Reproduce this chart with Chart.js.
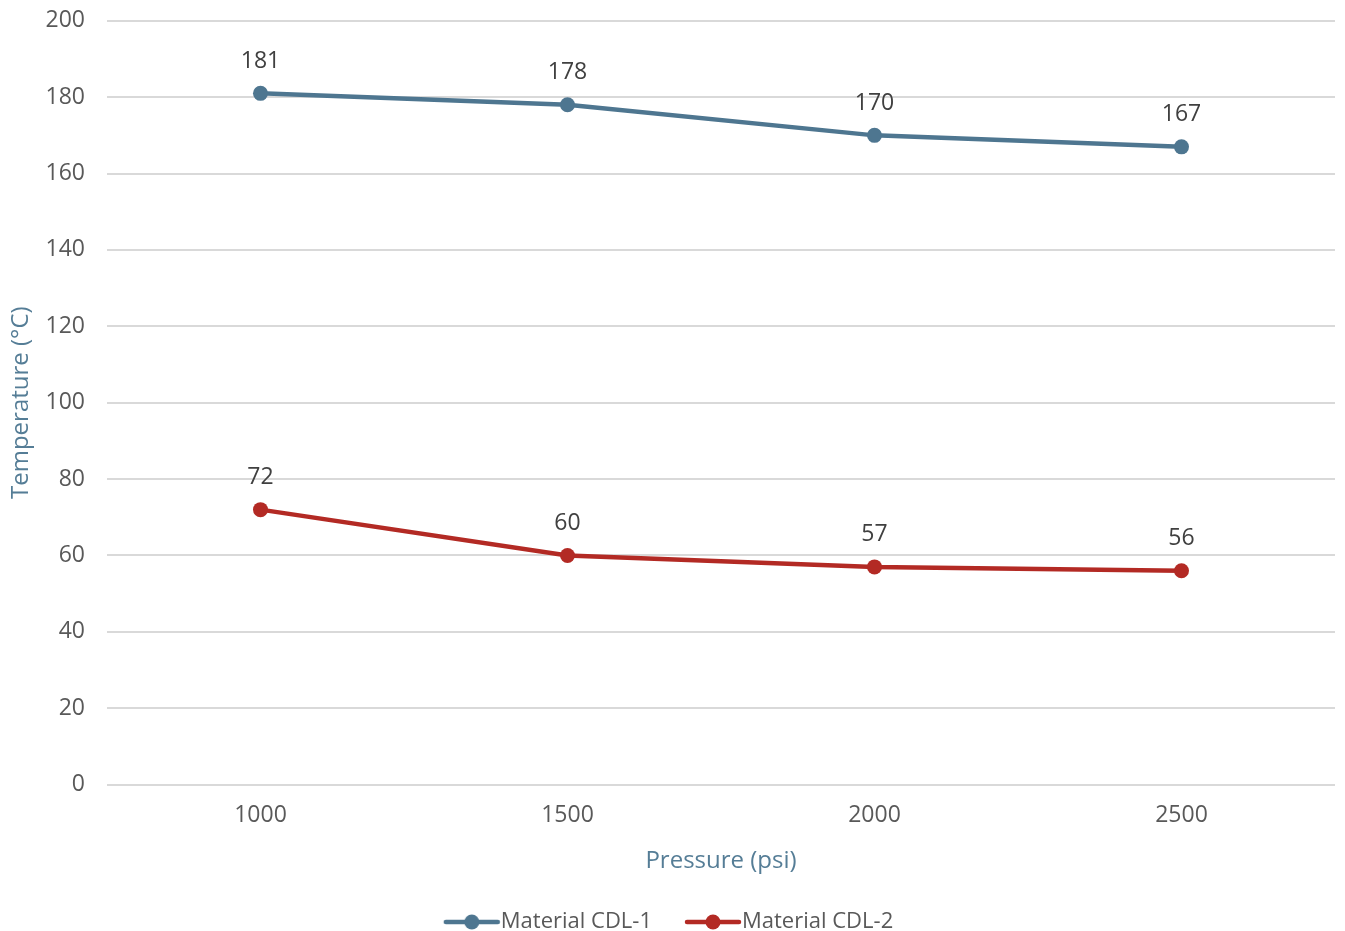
<!DOCTYPE html>
<html>
<head>
<meta charset="utf-8">
<script src="https://cdn.jsdelivr.net/npm/chart.js@4"></script>
<style>
html,body{margin:0;padding:0;background:#fff;}
#wrap{width:1345px;height:931px;}
</style>
</head>
<body>
<div id="wrap"><canvas id="c"></canvas></div>
<script>
const categories = ['1000', '1500', '2000', '2500'];
const seriesCDL1 = [181, 178, 170, 167];
const seriesCDL2 = [72, 60, 57, 56];
const seriesNames = ['Material CDL-1', 'Material CDL-2'];
const yTicks = [0, 20, 40, 60, 80, 100, 120, 140, 160, 180, 200];

const BLUE = '#4E7690';
const RED = '#B32A24';
const TEXT = '#595959';
const TITLE = '#557D96';
const FONT = '"Open Sans", Roboto, "Liberation Sans", sans-serif';

function legendIcon(color) {
  const c = document.createElement('canvas');
  c.width = 72; c.height = 18;
  const g = c.getContext('2d');
  g.strokeStyle = color; g.lineWidth = 4.5; g.lineCap = 'round';
  g.beginPath(); g.moveTo(16, 9); g.lineTo(68, 9); g.stroke();
  g.fillStyle = color;
  g.beginPath(); g.arc(42, 9, 7.5, 0, Math.PI * 2); g.fill();
  return c;
}

const dataLabels = {
  id: 'dataLabels',
  afterDatasetsDraw(chart) {
    const ctx = chart.ctx;
    ctx.save();
    ctx.font = '23px ' + FONT;
    ctx.fillStyle = '#404040';
    ctx.textAlign = 'center';
    ctx.textBaseline = 'middle';
    chart.data.datasets.forEach((ds, i) => {
      chart.getDatasetMeta(i).data.forEach((pt, j) => {
        ctx.fillText(String(ds.data[j]), pt.x, pt.y - 32);
      });
    });
    ctx.restore();
  }
};

new Chart(document.getElementById('c'), {
  type: 'line',
  data: {
    labels: categories,
    datasets: [
      { label: seriesNames[0], data: seriesCDL1, borderColor: BLUE, backgroundColor: BLUE,
        borderWidth: 4.5, pointRadius: 7.5, pointHoverRadius: 7.5, pointBackgroundColor: BLUE, pointBorderWidth: 0, tension: 0,
        pointStyle: 'circle', legendIcon: legendIcon(BLUE) },
      { label: seriesNames[1], data: seriesCDL2, borderColor: RED, backgroundColor: RED,
        borderWidth: 4.5, pointRadius: 7.5, pointHoverRadius: 7.5, pointBackgroundColor: RED, pointBorderWidth: 0, tension: 0,
        pointStyle: 'circle', legendIcon: legendIcon(RED) }
    ]
  },
  options: {
    responsive: true,
    maintainAspectRatio: false,
    animation: false,
    devicePixelRatio: 1,
    layout: { padding: { left: 0, right: 10, top: 0, bottom: -12 } },
    plugins: {
      tooltip: { enabled: false },
      legend: {
        position: 'bottom',
        labels: {
          color: TEXT,
          font: { size: 22, family: FONT },
          usePointStyle: true,
          pointStyleWidth: 48,
          padding: 31,
          generateLabels(chart) {
            return chart.data.datasets.map((ds, i) => ({
              text: ds.label,
              fillStyle: ds.borderColor,
              strokeStyle: ds.borderColor,
              lineWidth: 0,
              pointStyle: ds.legendIcon,
              hidden: false,
              datasetIndex: i,
              fontColor: TEXT
            }));
          }
        }
      }
    },
    scales: {
      x: {
        offset: true,
        grid: { display: false, drawTicks: false },
        border: { display: false },
        ticks: { color: TEXT, font: { size: 23, family: FONT }, padding: 17 },
        title: { display: true, text: 'Pressure (psi)', color: TITLE, font: { size: 24, family: FONT }, padding: { top: 1, bottom: 4 } }
      },
      y: {
        min: 0, max: 200,
        afterBuildTicks(scale) { scale.ticks = yTicks.map(v => ({ value: v })); },
        afterFit(scale) { scale.width = 107; },
        grid: { color: '#D9D9D9', lineWidth: 2, drawTicks: true, tickLength: 15, tickColor: 'rgba(0,0,0,0)' },
        border: { display: false },
        ticks: { color: TEXT, font: { size: 23, family: FONT }, padding: 7 },
        title: { display: true, text: 'Temperature (°C)', color: TITLE, font: { size: 24, family: FONT }, padding: { top: 7, bottom: 2 } }
      }
    }
  },
  plugins: [dataLabels]
});
</script>
</body>
</html>
